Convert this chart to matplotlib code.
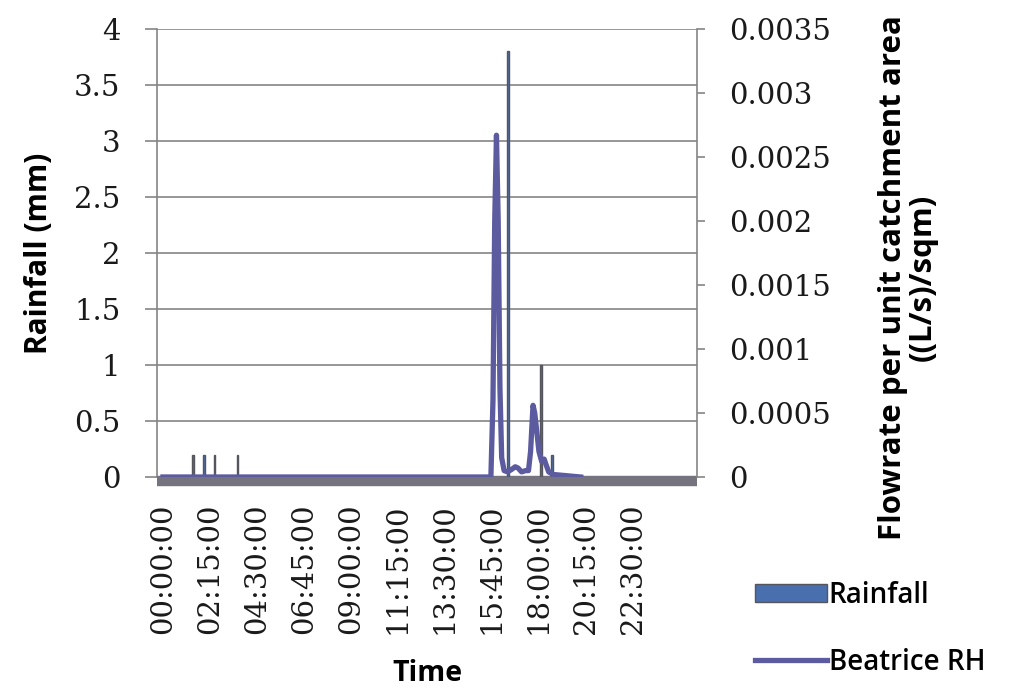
import matplotlib
matplotlib.use("Agg")
import matplotlib.pyplot as plt
from matplotlib.ticker import FixedLocator, FixedFormatter

# Rainfall tips (minutes after midnight, mm)
rain_time = [86, 118, 149, 215, 991, 1086, 1117]
rain_mm = [0.2, 0.2, 0.2, 0.2, 3.8, 1.0, 0.2]

# Beatrice RH runoff per unit catchment area ((L/s)/sqm)
flow_time = [0, 942, 948, 953, 958, 963, 968, 973, 980, 990, 1002, 1012,
             1020, 1030, 1042, 1050, 1056, 1063, 1068, 1074, 1080, 1088,
             1095, 1100, 1108, 1120, 1160, 1200]
flow_val = [0, 0, 0.0006, 0.0020, 0.00267, 0.0020, 0.0007, 0.00015,
            0.00005, 0.00004, 0.00006, 0.00008, 0.00007, 0.00004, 0.00005,
            0.00005, 0.0002, 0.00056, 0.0005, 0.00035, 0.0002, 0.00012,
            0.00014, 0.0001, 0.00004, 0.00002, 0.00001, 0]

x_tick_minutes = [0, 135, 270, 405, 540, 675, 810, 945, 1080, 1215, 1350]
x_tick_labels = ["00:00:00", "02:15:00", "04:30:00", "06:45:00", "09:00:00",
                 "11:15:00", "13:30:00", "15:45:00", "18:00:00", "20:15:00",
                 "22:30:00"]
left_ticks = [0, 0.5, 1, 1.5, 2, 2.5, 3, 3.5, 4]
left_labels = ["0", "0.5", "1", "1.5", "2", "2.5", "3", "3.5", "4"]
right_ticks = [0, 0.0005, 0.001, 0.0015, 0.002, 0.0025, 0.003, 0.0035]
right_labels = ["0", "0.0005", "0.001", "0.0015", "0.002", "0.0025",
                "0.003", "0.0035"]

W, H = 1032, 693
fig = plt.figure(figsize=(W / 100, H / 100), dpi=100)
ax = fig.add_axes([157 / W, 1 - 477 / H, 540 / W, 448 / H])
ax2 = ax.twinx()

tick_font = dict(family="DejaVu Serif", size=21)
grid_c = "#858585"

# rainfall columns
bars = ax.bar(rain_time, rain_mm, width=4, color="#4a6fae",
              edgecolor="#55555d", linewidth=1.0, label="Rainfall", zorder=3)

# horizontal gridlines
for v in left_ticks[1:]:
    ax.axhline(v, color=grid_c, lw=1.2, zorder=1)

ax.set_xlim(-17, 1534)
ax.set_ylim(0, 4)
ax2.set_ylim(0, 0.0035)

# runoff line
line, = ax2.plot(flow_time, flow_val, color="#5c5ba0", lw=3.8,
                 solid_joinstyle="round", label="Beatrice RH", zorder=4)

# spines
ax.spines["top"].set_visible(False)
ax2.spines["top"].set_visible(False)
ax.spines["right"].set_visible(False)
ax2.spines["left"].set_visible(False)
ax2.spines["bottom"].set_visible(False)
ax.spines["left"].set_color(grid_c)
ax.spines["left"].set_linewidth(1.2)
ax2.spines["right"].set_color(grid_c)
ax2.spines["right"].set_linewidth(1.2)
ax.spines["bottom"].set_color("#75747e")
ax.spines["bottom"].set_linewidth(7.5)
ax.spines["bottom"].set_capstyle("butt")
ax.spines["bottom"].set_position(("outward", 3))

ax.yaxis.set_major_locator(FixedLocator(left_ticks))
ax.yaxis.set_major_formatter(FixedFormatter(left_labels))
ax2.yaxis.set_major_locator(FixedLocator(right_ticks))
ax2.yaxis.set_major_formatter(FixedFormatter(right_labels))
ax.xaxis.set_major_locator(FixedLocator(x_tick_minutes))
ax.xaxis.set_major_formatter(FixedFormatter(x_tick_labels))

ax.tick_params(axis="y", direction="out", length=8.5, width=1.2,
               color=grid_c, pad=18)
ax2.tick_params(axis="y", direction="out", length=6, width=1.2,
                color=grid_c, pad=17)
ax.tick_params(axis="x", length=0, pad=16, rotation=90)
for lab in ax.get_xticklabels() + ax.get_yticklabels() + ax2.get_yticklabels():
    lab.set_fontfamily(tick_font["family"])
    lab.set_fontsize(tick_font["size"])
    lab.set_color("#1a1a1a")

ax.set_xlabel("Time", labelpad=18, family="Open Sans", weight="bold",
              size=20.5)
ax.set_ylabel("Rainfall (mm)", family="Open Sans", weight="bold", size=21.5)
ax.yaxis.set_label_coords(-0.19, 0.5)
ax2.set_ylabel("Flowrate per unit catchment area\n((L/s)/sqm)",
               linespacing=0.95, family="Open Sans", weight="bold", size=22.5)
ax2.yaxis.set_label_coords(1.336, 0.445)

fig.legend(handles=[bars, line], labels=["Rainfall", "Beatrice RH"],
           loc="upper left", bbox_to_anchor=(730 / W, 1 - 556 / H),
           frameon=False, handlelength=2.6, handleheight=0.62,
           handletextpad=0.05, labelspacing=1.35,
           prop=dict(family="Open Sans", weight="semibold", size=20))

fig.savefig("out.png", dpi=100, facecolor="white")
